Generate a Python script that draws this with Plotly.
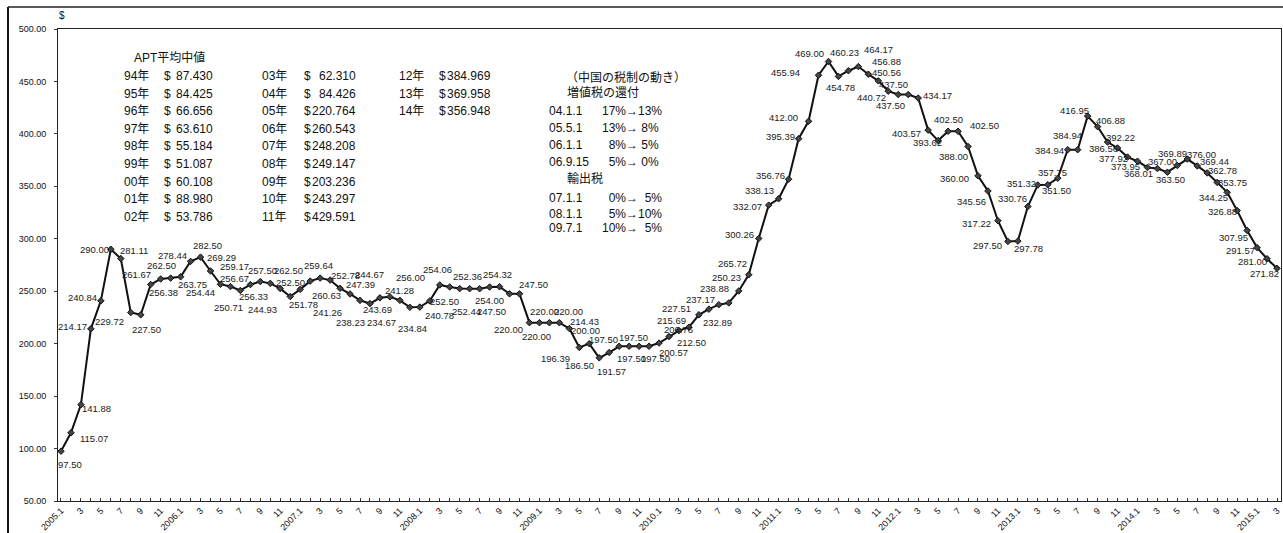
import plotly.graph_objects as go

# ---------------- data ----------------
VALUES = [
    97.50, 115.07, 141.88, 214.17, 240.84, 290.00, 281.11, 229.72, 227.50, 256.38, 261.67, 262.50,   # 2005
    263.75, 278.44, 282.50, 269.29, 256.67, 254.44, 250.71, 256.33, 259.17, 257.50, 252.50, 244.93,  # 2006
    251.78, 259.64, 262.50, 260.63, 252.78, 247.39, 241.26, 238.23, 243.69, 244.67, 241.28, 234.67,  # 2007
    234.84, 240.78, 256.00, 254.06, 252.50, 252.44, 252.36, 254.00, 254.32, 247.50, 247.50, 220.00,  # 2008
    220.00, 220.00, 220.00, 214.43, 196.39, 200.00, 186.50, 191.57, 197.50, 197.50, 197.50, 197.50,  # 2009
    200.57, 206.76, 212.50, 215.69, 227.51, 232.89, 237.17, 238.88, 250.23, 265.72, 300.26, 332.07,  # 2010
    338.13, 356.76, 395.39, 412.00, 455.94, 469.00, 454.78, 460.23, 464.17, 456.88, 450.56, 440.72,  # 2011
    437.50, 437.50, 434.17, 403.57, 393.62, 402.50, 402.50, 388.00, 360.00, 345.56, 317.22, 297.50,  # 2012
    297.78, 330.76, 351.32, 351.50, 357.75, 384.94, 384.94, 416.95, 406.88, 392.22, 386.56, 377.92,  # 2013
    373.95, 368.01, 367.00, 363.50, 369.89, 376.00, 369.44, 362.78, 353.75, 344.25, 326.88, 307.95,  # 2014
    291.57, 281.00, 271.82,                                                                          # 2015
]
START_YEAR = 2005
Y_TICKS = [50, 100, 150, 200, 250, 300, 350, 400, 450, 500]

TABLE_TITLE = "APT平均中値"
COL1_YEARS = ["94年", "95年", "96年", "97年", "98年", "99年", "00年", "01年", "02年"]
COL1_VALUES = ["87.430", "84.425", "66.656", "63.610", "55.184", "51.087", "60.108", "88.980", "53.786"]
COL2_YEARS = ["03年", "04年", "05年", "06年", "07年", "08年", "09年", "10年", "11年"]
COL2_VALUES = ["62.310", "84.426", "220.764", "260.543", "248.208", "249.147", "203.236", "243.297", "429.591"]
COL3_YEARS = ["12年", "13年", "14年"]
COL3_VALUES = ["384.969", "369.958", "356.948"]

TAX_TITLE = "（中国の税制の動き）"
TAX_HEAD1 = "増値税の還付"
TAX_HEAD2 = "輸出税"
TAX1_DATES = ["04.1.1", "05.5.1", "06.1.1", "06.9.15"]
TAX1_FROM = ["17%", "13%", "8%", "5%"]
TAX1_TO = ["13%", "8%", "5%", "0%"]
TAX2_DATES = ["07.1.1", "08.1.1", "09.7.1"]
TAX2_FROM = ["0%", "5%", "10%"]
TAX2_TO = ["5%", "10%", "5%"]

# ---------------- styling: label offsets (px right, px up) from each point ----------------
LABEL_SHIFT = [
    (9, -13), (23, -6), (16, -4), (-18, 2), (-18, 3), (-16, 0), (13, 8), (-21, -9), (6, -15), (13, -8), (-24, 4), (-9, 13),
    (12, -8), (-18, 6), (7, 12), (11, 13), (14, 6), (-30, -6), (-12, -17), (3, -12), (-26, 15), (-8, 13), (10, 6), (-28, -13),
    (3, -15), (8, 16), (-32, 8), (-4, -15), (5, 13), (10, 9), (-33, -12), (-19, -19), (-2, -12), (-20, 22), (0, 10), (-28, -15),
    (-7, -21), (10, -15), (-29, 7), (-12, 17), (-15, -13), (-3, -23), (-12, 12), (0, -13), (-2, 12), (-18, -18), (14, 9), (-21, -7),
    (-3, -14), (-5, 11), (9, 11), (15, 7), (-24, -11), (-4, 13), (-20, -8), (2, -19), (-16, 7), (4, 9), (-8, -12), (6, -12),
    (14, -9), (9, 7), (13, -12), (-17, 7), (-22, 6), (9, -13), (-18, 5), (-14, 14), (-12, 13), (-16, 11), (-19, 4), (-21, -1),
    (-19, 8), (-18, 4), (-18, 2), (-25, 4), (-33, 3), (-19, 8), (2, -11), (-4, 18), (20, 17), (18, 13), (8, 8), (-17, -6),
    (-5, 10), (-18, -11), (19, 3), (-22, -3), (-11, -2), (0, 12), (26, 6), (-15, -10), (-23, -3), (-16, -11), (-21, -3), (-20, -4),
    (11, -7), (-15, 8), (-16, 1), (9, -6), (-5, 6), (-18, -1), (-10, 14), (-13, 6), (13, 6), (13, 5), (-14, -1), (-14, -1),
    (-12, -5), (-9, -6), (5, 7), (3, -7), (-5, 12), (14, 5), (17, 4), (15, 2), (15, 0), (-14, -5), (-15, -1), (-14, -7),
    (-17, -3), (-15, -3), (-13, -5),
]

# ---------------- layout geometry ----------------
W, H = 1283, 533
ML, MR, MT, MB = 58, 2, 29, 32
PW, PH = W - ML - MR, H - MT - MB
FONT = "Liberation Sans, Arial, Noto Sans CJK JP, sans-serif"
LFONT = "Liberation Sans Narrow, Arial Narrow, Liberation Sans, sans-serif"
JFONT = "Liberation Sans, Noto Sans CJK JP, sans-serif"
NB = "\u00a0"


def px(X):
    return (X - ML) / PW


def py(Y):
    return (H - MB - Y) / PH


n = len(VALUES)
xs = list(range(n))
tick_text = []
for i in xs:
    m = i % 12 + 1
    y = START_YEAR + i // 12
    if m == 1:
        tick_text.append(f"{y}.1")
    elif m % 2 == 1:
        tick_text.append(str(m))
    else:
        tick_text.append("")

fig = go.Figure()
fig.add_trace(go.Scatter(
    x=xs, y=VALUES,
    mode="lines+markers",
    line=dict(color="#111111", width=2),
    marker=dict(symbol="diamond", size=5, color="#444444", line=dict(color="#111111", width=1)),
    hoverinfo="skip",
    showlegend=False,
))

ann = []

# data labels, anchored to the data points
for i, v in enumerate(VALUES):
    dx, dy = LABEL_SHIFT[i]
    ann.append(dict(text=f"{v:.2f}", x=i, y=v, xref="x", yref="y",
                    xshift=dx, yshift=dy, xanchor="center", yanchor="middle",
                    showarrow=False, font=dict(family=LFONT, size=9.5, color="#1a1a1a")))


def add(text, X, Y, anchor="left", size=12):
    ann.append(dict(text=text, x=px(X), y=py(Y), xref="paper", yref="paper",
                    xanchor=anchor, yanchor="middle", showarrow=False,
                    font=dict(family=JFONT, size=size, color="#111111")))


# "$" unit label
add("$", 62, 16, "center", 10)

# APT table
add(TABLE_TITLE, 132, 58)
ROW0, STEP = 76, 17.6
cols = [
    (COL1_YEARS, COL1_VALUES, 122, 162, 215),
    (COL2_YEARS, COL2_VALUES, 260, 302, 358),
    (COL3_YEARS, COL3_VALUES, 397, 437, 493),
]
for years, vals, xy, xd, xv in cols:
    for r, (yy, vv) in enumerate(zip(years, vals)):
        yrow = ROW0 + r * STEP
        add(yy, xy, yrow)
        add("$", xd, yrow)
        add(vv, xv, yrow, "right")

# Tax block
add(TAX_TITLE, 626, 78, "center")
add(TAX_HEAD1, 565, 93)
for r, (d, a, b) in enumerate(zip(TAX1_DATES, TAX1_FROM, TAX1_TO)):
    yrow = 111 + r * 17
    add(d, 547, yrow)
    a_txt = a if len(a) == 3 else NB * 2 + a
    b_txt = b if len(b) == 3 else NB + b
    add(f"{a_txt}→{b_txt}", 600, yrow)
add(TAX_HEAD2, 565, 179)
for r, (d, a, b) in enumerate(zip(TAX2_DATES, TAX2_FROM, TAX2_TO)):
    yrow = [198, 214, 228][r]
    add(d, 547, yrow)
    a_txt = a if len(a) == 3 else NB * 2 + a
    b_txt = b if len(b) == 3 else NB * 2 + b
    add(f"{a_txt}→{b_txt}", 600, yrow)

shapes = [
    dict(type="line", xref="paper", yref="paper", x0=px(8), x1=px(8), y0=py(7), y1=py(540),
         line=dict(color="#111111", width=2)),
    dict(type="line", xref="paper", yref="paper", x0=px(8), x1=px(1290), y0=py(7), y1=py(7),
         line=dict(color="#222222", width=1.5)),
]

fig.update_layout(
    template="none",
    width=W, height=H, autosize=False,
    margin=dict(l=ML, r=MR, t=MT, b=MB, pad=0),
    paper_bgcolor="white", plot_bgcolor="white",
    font=dict(family=FONT, size=9, color="#111111"),
    annotations=ann,
    shapes=shapes,
    xaxis=dict(
        range=[-0.3, n - 1 + 0.4],
        tickmode="array", tickvals=xs, ticktext=tick_text,
        tickangle=-45, ticks="inside", ticklen=3, tickcolor="#333333",
        showline=True, linecolor="#222222", linewidth=1, mirror=True,
        showgrid=False, zeroline=False, automargin=False,
        tickfont=dict(family=FONT, size=9, color="#111111"),
    ),
    yaxis=dict(
        range=[50, 500],
        tickmode="array", tickvals=Y_TICKS, ticktext=[f"{v:.2f}" for v in Y_TICKS],
        ticks="outside", ticklen=3, tickcolor="#333333",
        showline=True, linecolor="#222222", linewidth=1, mirror=True,
        showgrid=False, zeroline=False, automargin=False,
        tickfont=dict(family=FONT, size=9, color="#111111"),
        ticklabelstandoff=6,
    ),
)

fig.write_html("out.html")
